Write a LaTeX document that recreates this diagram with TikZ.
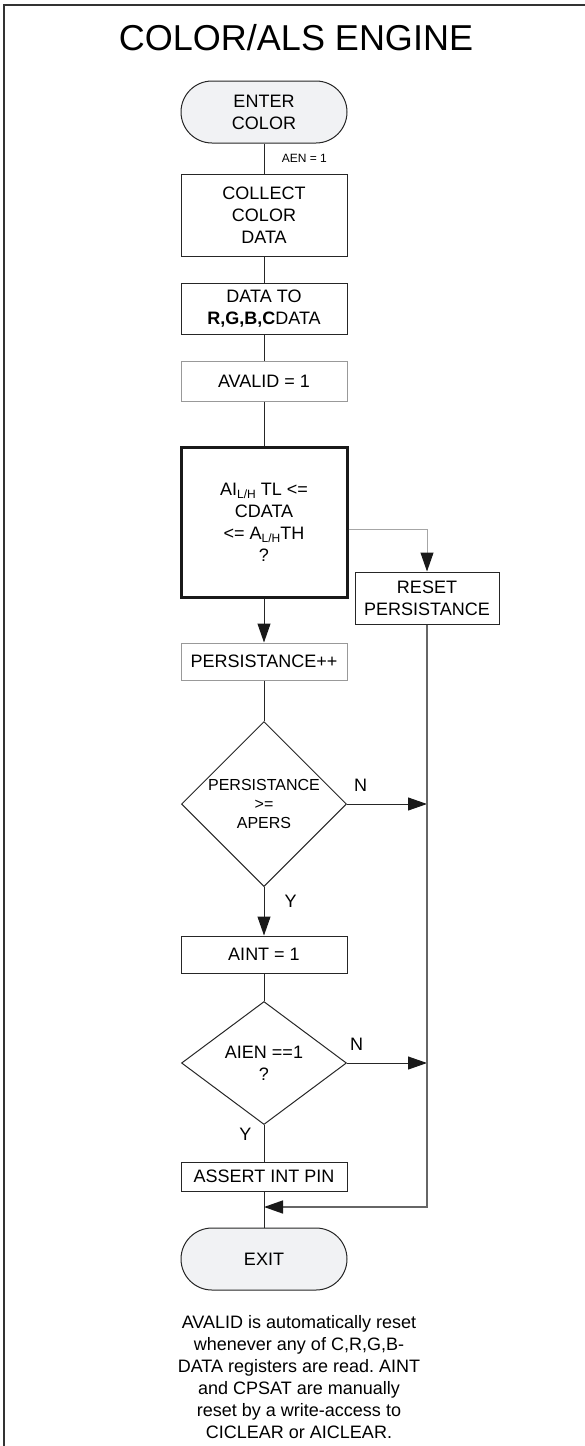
\documentclass[tikz,border=0pt]{standalone}
\usepackage{fontspec}
\setmainfont{Liberation Sans}
\usetikzlibrary{shapes.geometric,arrows.meta}
\frenchspacing

\definecolor{termfill}{HTML}{F1F2F4}
\newcommand{\lh}{\raisebox{-0.35ex}{\fontsize{12}{12}\selectfont L/H}}

\tikzset{
	stepbox/.style={shape=rectangle,draw=black!85,line width=1pt,minimum width=166pt,inner sep=0pt,align=center,font=\fontsize{18}{22}\selectfont},
	greybox/.style={stepbox,draw=black!40},
	termbox/.style={stepbox,rounded corners=31pt,minimum height=62pt,fill=termfill},
	decision/.style={shape=diamond,draw=black!85,line width=1pt,minimum width=165pt,inner sep=0pt,align=center},
	flow/.style={draw=black!85,line width=1pt},
	tip/.style={-{Triangle[length=19pt,width=13pt,black!90]}},
	flowarrow/.style={flow,tip},
	yn/.style={font=\fontsize{18}{18}\selectfont,inner sep=0pt}
}

\begin{document}
\begin{tikzpicture}[x=1pt,y=-1pt]

		\useasboundingbox (0,0) rectangle (585,1446);
		\draw[black!80,line width=2pt] (4,1446) -- (4,5) -- (585,5);

		\node[font=\fontsize{36}{36}\selectfont] (title) at (296,38) {COLOR/ALS ENGINE};

		\node[termbox,minimum height=62pt]   (enter)   at (264,112)   {ENTER\\COLOR};
		\node[stepbox,minimum height=82pt]   (collect) at (264,215)   {COLLECT\\COLOR\\DATA};
		\node[stepbox,minimum height=51pt]   (datato)  at (264,308.5) {DATA TO\\\textbf{R,G,B,C}DATA};
		\node[greybox,minimum height=40pt]   (avalid)  at (264,381)   {AVALID = 1};
		\node[stepbox,minimum height=150pt,line width=3pt,draw=black!90] (check) at (264,522) {AI\lh{} TL <=\\CDATA\\<= A\lh TH\\?};
		\node[stepbox,minimum width=144pt,minimum height=52pt] (reset) at (427,598) {RESET\\PERSISTANCE};
		\node[greybox,minimum height=37pt]   (persinc) at (264,661.5) {PERSISTANCE++};
		\node[decision,minimum height=165pt,font=\fontsize{16}{19}\selectfont] (apers) at (264,804) {PERSISTANCE\\>=\\APERS};
		\node[stepbox,minimum height=37pt]   (aint)    at (264,954.5) {AINT = 1};
		\node[decision,minimum height=123pt,font=\fontsize{18}{22}\selectfont] (aien) at (264,1063) {AIEN ==1\\?};
		\node[stepbox,minimum height=29pt]   (assert)  at (264,1176.5) {ASSERT INT PIN};
		\node[termbox]                       (exit)    at (264,1259)  {EXIT};

		\coordinate (join) at (264,1207);

		% main column
		\path[flow] (enter) edge node[midway,anchor=west,xshift=14pt,font=\fontsize{12}{12}\selectfont] {AEN = 1} (collect);
		\path[flow] (collect) edge (datato);
		\path[flow] (datato) edge (avalid);
		\path[flow] (avalid) edge (check);
		\path[flowarrow] (check) edge (persinc);
		\path[flow] (persinc) edge (apers);
		\path[flowarrow] (apers) edge node[yn,pos=0.3,anchor=west,xshift=20pt] {Y} (aint);
		\path[flow] (aint) edge (aien);
		\path[flow] (aien) edge node[yn,pos=0.25,anchor=east,xshift=-12pt] {Y} (assert);
		\path[flow] (assert) edge (exit);

		% reset branch
		\draw[draw=black!35,line width=1pt,tip] ([yshift=-7pt]check.east) -| (reset.north);
		\draw[flowarrow] (apers.east) -- node[yn,pos=0.17,anchor=south,yshift=12pt] {N} (apers.east -| reset.south);
		\draw[flowarrow] (aien.east) -- node[yn,pos=0.12,anchor=south,yshift=12pt] {N} (aien.east -| reset.south);
		\draw[draw=black!60,line width=1.5pt,tip] (reset.south) |- (join);

		\node[align=center,font=\fontsize{18}{22}\selectfont] (note) at (299,1377) {AVALID is automatically reset\\whenever any of C,R,G,B-\\DATA registers are read. AINT\\and CPSAT are manually\\reset by a write-access to\\CICLEAR or AICLEAR.};

\end{tikzpicture}
\end{document}
